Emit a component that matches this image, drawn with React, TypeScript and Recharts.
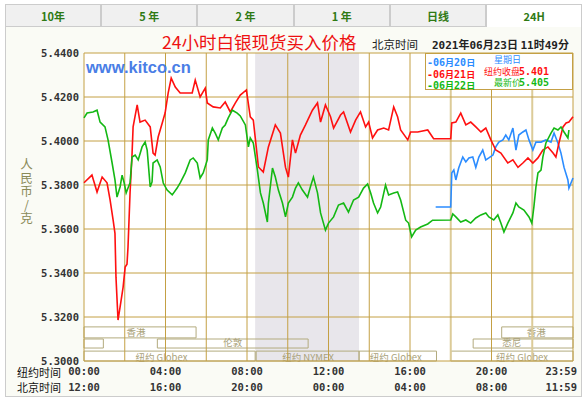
import { LineChart, Line, XAxis, YAxis, ReferenceLine, ReferenceArea } from 'recharts';

// hours (New York time) / price in CNY per gram
const red: [number, number][] = [
  [0, 5.381], [0.39, 5.3845], [0.64, 5.3768], [0.89, 5.3836], [1.13, 5.381], [1.28, 5.3732], [1.43, 5.364],
  [1.52, 5.358], [1.57, 5.338], [1.67, 5.3186], [1.77, 5.3245], [1.92, 5.3336], [2.02, 5.3427], [2.11, 5.344],
  [2.16, 5.3518], [2.26, 5.3764], [2.36, 5.3945], [2.41, 5.4064], [2.61, 5.4164], [2.75, 5.4086], [3.0, 5.4095],
  [3.25, 5.4064], [3.39, 5.3945], [3.49, 5.3936], [3.64, 5.4018], [3.84, 5.4082], [3.98, 5.4127], [4.13, 5.4218],
  [4.28, 5.4286], [4.48, 5.4245], [4.72, 5.4218], [5.07, 5.4218], [5.31, 5.4218], [5.46, 5.4277], [5.7, 5.42],
  [5.95, 5.424], [6.05, 5.4173], [6.34, 5.4155], [6.69, 5.415], [6.93, 5.4177], [7.18, 5.4132], [7.43, 5.4173],
  [7.67, 5.4209], [7.97, 5.4232], [8.16, 5.411], [8.31, 5.4095], [8.56, 5.3882], [8.8, 5.3859], [9.05, 5.3973],
  [9.39, 5.4073], [9.64, 5.4036], [9.89, 5.388], [10.03, 5.3836], [10.23, 5.4005], [10.38, 5.3945], [10.62, 5.4027],
  [10.87, 5.4073], [11.21, 5.414], [11.46, 5.4173], [11.61, 5.4086], [11.85, 5.4164], [12.1, 5.411], [12.25, 5.4059],
  [12.59, 5.4118], [12.74, 5.4132], [13.08, 5.4041], [13.33, 5.4095], [13.57, 5.4132], [13.82, 5.4064], [13.97, 5.4086],
  [14.16, 5.4014], [14.41, 5.405], [14.71, 5.4059], [14.95, 5.405], [15.2, 5.4155], [15.39, 5.411], [15.54, 5.405],
  [15.89, 5.4005], [16.03, 5.4041], [16.38, 5.4041], [16.87, 5.405], [17.16, 5.401], [18.0, 5.401], [18.05, 5.4082],
  [18.25, 5.4086], [18.49, 5.4127], [18.74, 5.4073], [18.98, 5.4086], [19.23, 5.4064], [19.48, 5.4041], [19.72, 5.4059],
  [19.97, 5.4005], [20.21, 5.3959], [20.46, 5.3945], [20.8, 5.39], [21.05, 5.3914], [21.3, 5.388], [21.54, 5.39],
  [21.79, 5.3923], [22.03, 5.39], [22.28, 5.3923], [22.52, 5.3959], [22.77, 5.3973], [23.02, 5.3945], [23.16, 5.3927],
  [23.31, 5.3991], [23.51, 5.4064], [23.66, 5.4082], [23.8, 5.4086], [24, 5.411],
];

const green: [number, number][] = [
  [0, 5.4105], [0.15, 5.4127], [0.44, 5.4132], [0.64, 5.414], [0.79, 5.4086], [1.03, 5.4064], [1.18, 5.4005],
  [1.38, 5.39], [1.52, 5.3823], [1.62, 5.3745], [1.77, 5.3791], [1.87, 5.3845], [1.97, 5.381], [2.07, 5.3764],
  [2.16, 5.3786], [2.26, 5.381], [2.36, 5.3927], [2.51, 5.3936], [2.66, 5.3914], [2.85, 5.3973], [3.0, 5.3995],
  [3.1, 5.3959], [3.25, 5.3791], [3.34, 5.3814], [3.39, 5.39], [3.59, 5.3914], [3.74, 5.3882], [3.89, 5.3809],
  [4.08, 5.3777], [4.33, 5.3755], [4.57, 5.3786], [4.72, 5.381], [4.97, 5.3855], [5.21, 5.3914], [5.36, 5.3923],
  [5.56, 5.39], [5.7, 5.3832], [5.85, 5.3855], [6.05, 5.3914], [6.1, 5.4005], [6.3, 5.4059], [6.44, 5.4036],
  [6.59, 5.4005], [6.79, 5.4059], [6.93, 5.4073], [7.08, 5.4105], [7.28, 5.414], [7.52, 5.4127], [7.67, 5.4114],
  [7.92, 5.4073], [8.07, 5.3973], [8.16, 5.4014], [8.31, 5.3991], [8.51, 5.3868], [8.66, 5.3764], [8.8, 5.3718],
  [9.0, 5.3632], [9.05, 5.3718], [9.25, 5.3877], [9.39, 5.3836], [9.54, 5.3777], [9.74, 5.3718], [9.89, 5.3655],
  [10.03, 5.3718], [10.23, 5.3745], [10.38, 5.3786], [10.52, 5.381], [10.72, 5.3777], [10.97, 5.3745], [11.11, 5.3791],
  [11.26, 5.3836], [11.46, 5.3764], [11.61, 5.3673], [11.85, 5.3595], [12.0, 5.3627], [12.25, 5.3655], [12.49, 5.3709],
  [12.74, 5.3718], [12.98, 5.3677], [13.23, 5.3732], [13.48, 5.3745], [13.72, 5.3786], [13.92, 5.3805], [14.07, 5.3764],
  [14.21, 5.3718], [14.41, 5.3673], [14.56, 5.37], [14.8, 5.38], [14.95, 5.3755], [15.2, 5.3764], [15.39, 5.3768],
  [15.54, 5.3732], [15.79, 5.364], [15.93, 5.3627], [16.08, 5.3564], [16.28, 5.3595], [16.52, 5.3609], [16.87, 5.3623],
  [17.11, 5.364], [18.0, 5.3641], [18.1, 5.3668], [18.25, 5.3655], [18.49, 5.3632], [18.74, 5.3641], [18.98, 5.3627],
  [19.23, 5.365], [19.48, 5.3664], [19.72, 5.3673], [19.87, 5.3655], [20.11, 5.3641], [20.31, 5.3664], [20.46, 5.3627],
  [20.61, 5.3586], [20.8, 5.3627], [21.05, 5.3673], [21.2, 5.3718], [21.34, 5.37], [21.59, 5.3686], [21.84, 5.3655],
  [21.98, 5.3627], [22.08, 5.37], [22.18, 5.379], [22.28, 5.3855], [22.43, 5.3868], [22.52, 5.3927], [22.67, 5.3991],
  [22.92, 5.4036], [23.07, 5.4059], [23.26, 5.405], [23.41, 5.4064], [23.56, 5.4041], [23.75, 5.4014], [23.8, 5.405],
];

const blue: [number, number][] = [
  [17.26, 5.37], [18.0, 5.37], [18.05, 5.3855], [18.15, 5.3868], [18.25, 5.3823], [18.39, 5.3877], [18.59, 5.3927],
  [18.74, 5.3905], [18.89, 5.3923], [19.08, 5.3927], [19.23, 5.388], [19.38, 5.3927], [19.57, 5.3959], [19.72, 5.3914],
  [19.87, 5.3923], [20.07, 5.3936], [20.21, 5.3973], [20.36, 5.3995], [20.56, 5.4005], [20.7, 5.4027], [20.85, 5.4005],
  [21.05, 5.4059], [21.2, 5.3959], [21.34, 5.4027], [21.54, 5.4041], [21.69, 5.405], [21.84, 5.4005], [22.03, 5.3959],
  [22.18, 5.3995], [22.43, 5.3995], [22.67, 5.4005], [22.92, 5.3995], [23.07, 5.4036], [23.26, 5.3991], [23.41, 5.3945],
  [23.56, 5.388], [23.75, 5.3823], [23.8, 5.3786], [24, 5.3832],
];

const nyTicks = [0, 4, 8, 12, 16, 20, 24];
const nyLabels = ['00:00', '04:00', '08:00', '12:00', '16:00', '20:00', '23:59'];
const bjLabels = ['12:00', '16:00', '20:00', '00:00', '04:00', '08:00', '11:59'];
const priceTicks = [5.3, 5.32, 5.34, 5.36, 5.38, 5.4, 5.42, 5.44];
const gridHours = [0, 2, 4, 6, 8, 10, 12, 14, 16, 20, 24];
const lightHours = [18, 22];
const tabs = ['10年', '5 年', '2 年', '1 年', '日线', '24H'];

// market sessions: [label, from hour, to hour, row, label hour]
const sessions: [string, number, number, number, number][] = [
  ['香港', 0, 5.5, 0, 2.55],
  ['香港', 20.5, 24, 0, 22.2],
  ['', 0, 0.95, 1, 0],
  ['伦敦', 3.6, 11, 1, 7.3],
  ['悉尼', 19.1, 24, 1, 21.0],
  ['纽约 Globex', 0, 8.4, 2, 3.8],
  ['纽约 NYMEX', 8.45, 13.5, 2, 11.0],
  ['纽约 Globex', 13.5, 17.3, 2, 15.3],
  ['纽约 Globex', 18, 24, 2, 21.5],
];
const sessionRows = [[5.3105, 5.3155], [5.3059, 5.31], [5.3, 5.3045]];
const rowShift = [3.5, 2.5, 4.5];

const legendRows = [
  ['-06月20日', '星期日', '', '#2b8cff'],
  ['-06月21日', '纽约收盘', '5.401', '#ff1010'],
  ['-06月22日', '最新价', '5.405', '#14b814'],
];

const mono = '"DejaVu Sans Mono", monospace';
const cjk = '"Noto Sans CJK SC", "Noto Sans", sans-serif';
const GRID = '#c4a044';

const toPts = (arr: [number, number][]) => arr.map(([t, v]) => ({ t, v }));

// two rows per tick: New York time, then Beijing time
const TimeTick = (props: any) => {
  const { x, y, payload } = props;
  const i = nyTicks.indexOf(payload.value);
  const last = payload.value === 24;
  const tx = last ? x + 4 : x;
  const anchor = last ? 'end' : 'middle';
  return (
    <g fontFamily={mono} fontWeight="bold" fontSize={10.5} fill="#333">
      <text x={tx} y={y} dy={12} textAnchor={anchor}>{nyLabels[i]}</text>
      <text x={tx} y={y} dy={28} textAnchor={anchor}>{bjLabels[i]}</text>
    </g>
  );
};

// session label placed at its own hour inside the box
const sessionLabel = (text: string, a: number, b: number, at: number, dy: number) => (props: any) => {
  const vb = props.viewBox;
  if (!vb || !text) return null;
  const x = vb.x + ((at - a) / (b - a)) * vb.width;
  return (
    <text x={x} y={vb.y + vb.height / 2} dy={dy} textAnchor="middle" fontSize={9.5} fontFamily={cjk} fill="#aaa27a">
      {text}
    </text>
  );
};

const Mixed = ({ s }: { s: string }) => (
  <>
    {s.split(/(\d+|\.)/).filter(Boolean).map((p, i) =>
      /[\d.\-]/.test(p) ? <span key={i} style={{ fontFamily: mono, fontSize: 10 }}>{p}</span> : <span key={i} style={{ fontSize: 9 }}>{p}</span>
    )}
  </>
);

export default function App() {
  return (
    <div style={{ position: 'absolute', left: 0, top: 0, width: 588, height: 398, background: '#fff', fontFamily: cjk }}>
      {tabs.map((t, i) => (
        <div key={t} style={{
          position: 'absolute', left: 5 + i * 96.2, top: 4, width: 96.2, height: 23, boxSizing: 'border-box',
          border: '1px solid #ccc', borderBottom: i === 5 ? 'none' : '1px solid #ccc',
          background: i === 5 ? '#fff' : '#f0f0f0', color: '#2f7a14', fontWeight: 'bold', fontSize: 11,
          textAlign: 'center', lineHeight: '22px',
        }}>{t}</div>
      ))}
      <div style={{
        position: 'absolute', left: 5, top: 27, width: 577, height: 370, boxSizing: 'border-box',
        border: '1px solid #ccc', borderTop: 'none', background: '#fafbf5',
      }} />

      <div style={{ position: 'absolute', left: 0, top: 0 }}>
        <LineChart width={588} height={398} margin={{ top: 53, right: 15, bottom: 5, left: 24 }}>
          <XAxis xAxisId="ny" type="number" dataKey="t" domain={[0, 24]} ticks={nyTicks} interval={0}
            axisLine={false} tickLine={false} tickSize={0} tickMargin={2} height={32} tick={TimeTick} />
          <YAxis type="number" domain={[5.3, 5.44]} ticks={priceTicks} interval={0} width={60}
            axisLine={false} tickLine={false} tickSize={3} tickMargin={2}
            tickFormatter={(v: number) => v.toFixed(4)}
            tick={{ fontFamily: mono, fontWeight: 'bold', fontSize: 10.5, fill: '#333' }} />

          <ReferenceArea xAxisId="ny" x1={0} x2={24} y1={5.3} y2={5.44} fill="#fff" fillOpacity={1} stroke="none" />
          <ReferenceArea xAxisId="ny" x1={8.4} x2={13.5} y1={5.3} y2={5.44} fill="#e8e6eb" fillOpacity={1} stroke="none" />

          {gridHours.map(h => (
            <ReferenceLine key={'h' + h} xAxisId="ny" x={h} stroke={GRID} strokeWidth={1} />
          ))}
          {lightHours.map(h => (
            <ReferenceLine key={'l' + h} xAxisId="ny" x={h} stroke="#dccb98" strokeWidth={2} />
          ))}
          {priceTicks.map(p => (
            <ReferenceLine key={'p' + p} xAxisId="ny" y={p} stroke={GRID} strokeWidth={1} />
          ))}

          {sessions.map(([label, a, b, row, at], i) => (
            <ReferenceArea key={'s' + i} xAxisId="ny" x1={a} x2={b} y1={sessionRows[row][0]} y2={sessionRows[row][1]}
              fill="none" stroke="#b3ab7e" strokeWidth={1}
              label={label ? { content: sessionLabel(label, a, b, at, rowShift[row]) } : undefined} />
          ))}

          <Line xAxisId="ny" data={toPts(blue)} dataKey="v" stroke="#2b8cff" strokeWidth={1.6} dot={false} isAnimationActive={false} />
          <Line xAxisId="ny" data={toPts(red)} dataKey="v" stroke="#ff1010" strokeWidth={1.6} dot={false} isAnimationActive={false} />
          <Line xAxisId="ny" data={toPts(green)} dataKey="v" stroke="#14b814" strokeWidth={1.6} dot={false} isAnimationActive={false} />
        </LineChart>
      </div>

      <div style={{ position: 'absolute', left: 86, top: 58, color: '#4a7ee6', fontFamily: '"Liberation Sans", Arial, sans-serif', fontWeight: 'bold', fontSize: 16.5 }}>
        www.kitco.cn
      </div>
      <div style={{ position: 'absolute', left: 162, top: 31, color: '#ee1111', fontSize: 17.5, lineHeight: '22px' }}>
        24小时白银现货买入价格
      </div>
      <div style={{ position: 'absolute', left: 372, top: 36, color: '#222', fontSize: 11.5, lineHeight: '16px' }}>北京时间</div>
      <div style={{ position: 'absolute', left: 432, top: 36, color: '#222', fontSize: 11, lineHeight: '16px', fontWeight: 'bold' }}>
        <span style={{ fontFamily: mono }}>2021</span>年<span style={{ fontFamily: mono }}>06</span>月<span style={{ fontFamily: mono }}>23</span>日 <span style={{ fontFamily: mono }}>11</span>时<span style={{ fontFamily: mono }}>49</span>分
      </div>

      <div style={{
        position: 'absolute', left: 425, top: 53, width: 148, height: 37, boxSizing: 'border-box',
        border: `1px solid ${GRID}`, background: '#fff', lineHeight: '11.5px', fontWeight: 'bold',
      }}>
        {legendRows.map(([d, n, v, c], i) => (
          <div key={i} style={{ position: 'relative', height: 11.5, color: c, whiteSpace: 'nowrap' }}>
            <span style={{ position: 'absolute', left: 1 }}><Mixed s={d} /></span>
            <span style={{ position: 'absolute', left: i === 1 ? 58 : 68, fontSize: 9, fontWeight: 'normal' }}>{n}</span>
            <span style={{ position: 'absolute', left: 93, fontFamily: mono, fontSize: 10 }}>{v}</span>
          </div>
        ))}
      </div>

      <div style={{
        position: 'absolute', left: 18, top: 158, width: 16, height: 72, color: '#8a8a58', fontSize: 12.5,
        lineHeight: '16px', writingMode: 'vertical-rl', textOrientation: 'upright', letterSpacing: 1,
      }}>
        人民币/克
      </div>
      <div style={{ position: 'absolute', left: 17, top: 367, color: '#111', fontSize: 11, lineHeight: '11px' }}>纽约时间</div>
      <div style={{ position: 'absolute', left: 17, top: 382, color: '#111', fontSize: 11, lineHeight: '11px' }}>北京时间</div>
    </div>
  );
}
